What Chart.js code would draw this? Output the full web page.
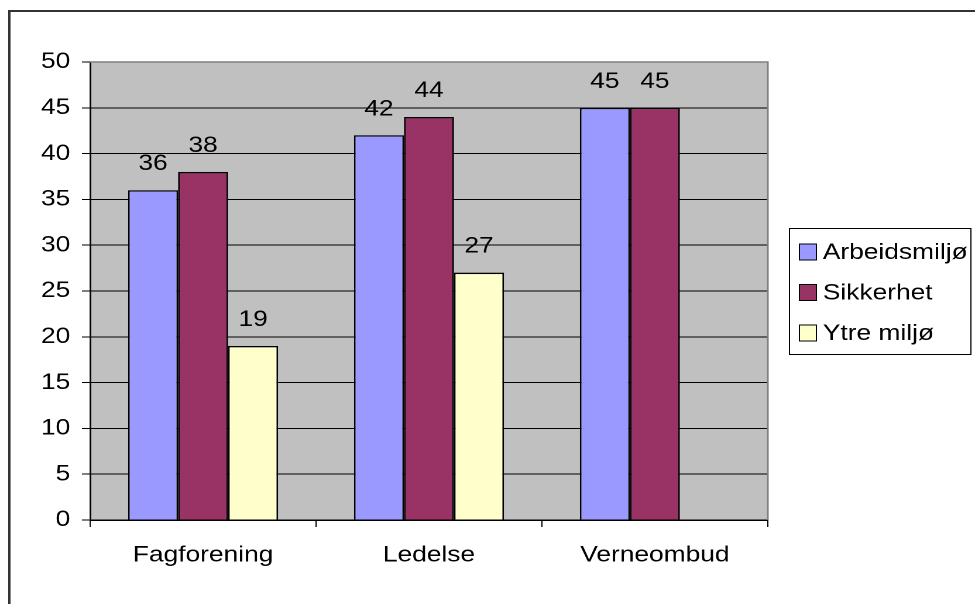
<!DOCTYPE html>
<html>
<head>
<meta charset="utf-8">
<script src="https://cdn.jsdelivr.net/npm/chart.js@4"></script>
<style>
  html, body { margin: 0; padding: 0; background: #fff; }
  #c { width: 975px; height: 604px; display: block; }
</style>
</head>
<body>
<canvas id="c" width="833" height="604" style="width:975px;height:604px"></canvas>
<script>
// chart values
const categories = ['Fagforening', 'Ledelse', 'Verneombud'];
const arbeidsmiljo = [36, 42, 45];
const sikkerhet = [38, 44, 45];
const ytreMiljo = [19, 27, null];
const seriesNames = ['Arbeidsmiljø', 'Sikkerhet', 'Ytre miljø'];
const seriesColors = ['#9999FF', '#993366', '#FFFFCC'];

const FONT = '"Liberation Sans", Arial, sans-serif';
const FS = 22.5;

// gray plot area + outer frame
const background = {
  id: 'background',
  beforeDraw(chart) {
    const ctx = chart.ctx;
    const a = chart.chartArea;
    ctx.save();
    ctx.fillStyle = '#333333';
    ctx.fillRect(7, 10, chart.width, 2);
    ctx.fillRect(7, 10, 2, chart.height);
    ctx.fillStyle = '#C0C0C0';
    ctx.fillRect(a.left, a.top, a.right - a.left, a.bottom - a.top);
    ctx.restore();
  },
  afterDraw(chart) {
    const ctx = chart.ctx;
    const a = chart.chartArea;
    ctx.save();
    ctx.strokeStyle = '#808080';
    ctx.lineWidth = 1.5;
    ctx.beginPath();
    ctx.moveTo(a.left, a.top);
    ctx.lineTo(a.right, a.top);
    ctx.lineTo(a.right, a.bottom);
    ctx.stroke();
    ctx.restore();
  }
};

// value labels above bars
const valueLabels = {
  id: 'valueLabels',
  afterDatasetsDraw(chart) {
    const ctx = chart.ctx;
    ctx.save();
    ctx.font = FS + 'px ' + FONT;
    ctx.fillStyle = '#000';
    ctx.textAlign = 'center';
    ctx.textBaseline = 'alphabetic';
    chart.data.datasets.forEach((ds, i) => {
      chart.getDatasetMeta(i).data.forEach((bar, j) => {
        const v = ds.data[j];
        if (v === null || v === undefined) return;
        ctx.fillText(String(v), bar.x, bar.y - 20);
      });
    });
    ctx.restore();
  }
};

// boxed legend on the right
const boxLegend = {
  id: 'boxLegend',
  afterDraw(chart) {
    const ctx = chart.ctx;
    const x = 674.5, y = 228.5, w = 155, h = 126;
    ctx.save();
    ctx.strokeStyle = '#000';
    ctx.lineWidth = 1;
    ctx.strokeRect(x, y, w, h);
    ctx.font = FS + 'px ' + FONT;
    ctx.textBaseline = 'middle';
    chart.data.datasets.forEach((ds, i) => {
      const cy = 252 + i * 40.5;
      ctx.fillStyle = ds.backgroundColor;
      ctx.fillRect(683, cy - 8, 14.5, 16);
      ctx.strokeRect(683, cy - 8, 14.5, 16);
      ctx.fillStyle = '#000';
      ctx.fillText(ds.label, 703, cy + 1);
    });
    ctx.restore();
  }
};

const ctx = document.getElementById('c').getContext('2d');
new Chart(ctx, {
  type: 'bar',
  data: {
    labels: categories,
    datasets: [arbeidsmiljo, sikkerhet, ytreMiljo].map((d, i) => ({
      label: seriesNames[i],
      data: d,
      backgroundColor: seriesColors[i],
      borderColor: '#000',
      borderWidth: 1.4,
      categoryPercentage: 0.664,
      barPercentage: 1
    }))
  },
  options: {
    responsive: false,
    animation: false,
    devicePixelRatio: 2,
    layout: { padding: { top: 62, right: 177, bottom: 0, left: 0 } },
    plugins: {
      legend: { display: false },
      tooltip: { enabled: false }
    },
    scales: {
      x: {
        afterFit(scale) { scale.height = 84; },
        grid: { drawOnChartArea: false, color: '#000', tickLength: 7, offset: true },
        border: { color: '#000', width: 1.5 },
        ticks: { color: '#000', font: { family: FONT, size: FS }, padding: 15, maxRotation: 0 }
      },
      y: {
        min: 0,
        max: 50,
        afterFit(scale) { scale.width = 77; },
        grid: { color: '#000', tickLength: 7 },
        border: { color: '#000', width: 1.5 },
        ticks: { stepSize: 5, color: '#000', font: { family: FONT, size: FS }, padding: 10 }
      }
    }
  },
  plugins: [background, valueLabels, boxLegend]
});
</script>
</body>
</html>
